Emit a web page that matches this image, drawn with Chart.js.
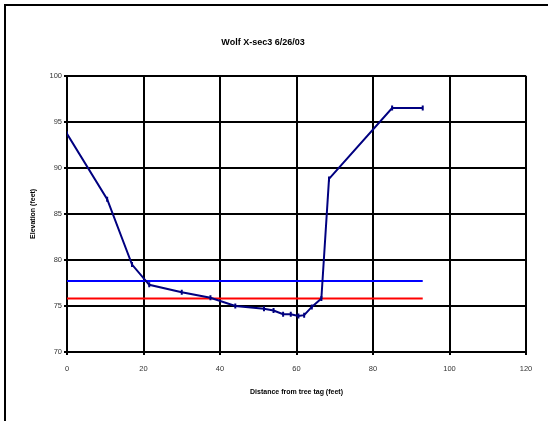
<!DOCTYPE html>
<html>
<head>
<meta charset="utf-8">
<script src="https://cdn.jsdelivr.net/npm/chart.js@4/dist/chart.umd.min.js"></script>
<style>
  html, body { margin: 0; padding: 0; background: #fff; overflow: hidden; }
  #wrap { position: relative; width: 548px; height: 421px; }
  #frame { position: absolute; left: 4px; top: 4px; width: 600px; height: 500px;
           border-left: 2px solid #000; border-top: 2px solid #000; pointer-events: none; }
  canvas { position: absolute; left: 0; top: 0; }
</style>
</head>
<body>
<div id="wrap">
  <canvas id="c" width="548" height="421"></canvas>
  <div id="frame"></div>
</div>
<script>
// Chart text
const chartTitle = "Wolf X-sec3 6/26/03";
const xAxisTitle = "Distance from tree tag (feet)";
const yAxisTitle = "Elevation (feet)";

// Cross-section survey (distance, elevation)
const distance  = [0, 10.5, 17, 21.5, 30, 37.5, 44, 51.5, 54, 56.5, 58.5, 60.5, 62, 64, 66.5, 68.5, 85, 93];
const elevation = [93.7, 86.6, 79.5, 77.3, 76.5, 75.9, 75.0, 74.7, 74.5, 74.1, 74.1, 73.9, 74.0, 74.9, 75.8, 88.8, 96.5, 96.5];

// Horizontal reference levels
const levelX     = [0, 93];
const blueLevel  = [77.7, 77.7];
const redLevel   = [75.8, 75.8];

// Axis ranges / ticks
const xTicks = [0, 20, 40, 60, 80, 100, 120];
const yTicks = [70, 75, 80, 85, 90, 95, 100];

const toPts = (xs, ys) => xs.map((x, i) => ({ x: x, y: ys[i] }));

Chart.defaults.font.family = "'Liberation Sans', Arial, sans-serif";
Chart.defaults.color = "#222";

new Chart(document.getElementById('c'), {
  type: 'scatter',
  data: {
    datasets: [
      {
        label: 'Profile',
        data: toPts(distance, elevation),
        showLine: true,
        borderColor: '#000080',
        backgroundColor: '#000080',
        borderWidth: 2,
        pointStyle: 'line',
        pointRotation: 90,
        pointRadius: 2.5,
        pointBorderWidth: 2,
        pointBorderColor: '#000080',
        tension: 0,
        order: 0
      },
      {
        label: 'Blue level',
        data: toPts(levelX, blueLevel),
        showLine: true,
        borderColor: '#0000FF',
        borderWidth: 2,
        pointRadius: 0,
        order: 1
      },
      {
        label: 'Red level',
        data: toPts(levelX, redLevel),
        showLine: true,
        borderColor: '#FF0000',
        borderWidth: 2,
        pointRadius: 0,
        order: 1
      }
    ]
  },
  options: {
    responsive: false,
    animation: false,
    events: [],
    layout: { padding: { left: 0, right: 22, top: 0, bottom: 0 } },
    plugins: {
      legend: { display: false },
      tooltip: { enabled: false },
      title: {
        display: true,
        text: chartTitle,
        color: '#000',
        font: { size: 9, weight: 'bold' },
        padding: { top: 37, bottom: 28 }
      }
    },
    scales: {
      x: {
        type: 'linear',
        min: xTicks[0],
        max: xTicks[xTicks.length - 1],
        afterBuildTicks: s => { s.ticks = xTicks.map(v => ({ value: v })); },
        afterFit: s => { s.height = 69; },
        grid: { color: '#000', lineWidth: 2, tickLength: 3, tickColor: '#000', drawOnChartArea: true },
        border: { display: true, color: '#000', width: 2 },
        ticks: { font: { size: 7.5 }, color: '#333', padding: 9, maxRotation: 0 },
        title: {
          display: true,
          text: xAxisTitle,
          color: '#000',
          font: { size: 7, weight: 'bold' },
          padding: { top: 0, bottom: 25 }
        }
      },
      y: {
        type: 'linear',
        min: yTicks[0],
        max: yTicks[yTicks.length - 1],
        afterBuildTicks: s => { s.ticks = yTicks.map(v => ({ value: v })); },
        afterFit: s => { s.width = 67; },
        grid: { color: '#000', lineWidth: 2, tickLength: 3, tickColor: '#000' },
        border: { display: true, color: '#000', width: 2 },
        ticks: { font: { size: 7.5 }, color: '#333', padding: 2 },
        title: {
          display: true,
          text: yAxisTitle,
          color: '#000',
          font: { size: 7, weight: 'bold' },
          padding: { top: 29, bottom: 0 }
        }
      }
    }
  }
});
</script>
</body>
</html>
